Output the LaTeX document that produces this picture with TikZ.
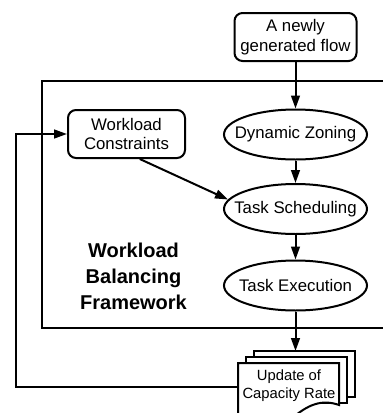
\documentclass[tikz,border=0pt]{standalone}
\usepackage{fontspec}
\setmainfont{Liberation Sans}
\usetikzlibrary{shapes.geometric,arrows.meta}

\begin{document}
\begin{tikzpicture}[x=0.5pt,y=-0.5pt,
  line width=1pt,
  arr/.style={-{Triangle[length=6.5pt,width=4.4pt]}},
  rbox/.style={draw,rounded corners=4pt,align=center,inner sep=0pt,
    font=\fontsize{8.4}{9.8}\selectfont},
  oval/.style={draw,ellipse,minimum width=71.5pt,minimum height=25pt,
    inner xsep=-12pt,inner ysep=0pt,font=\fontsize{8.4}{10}\selectfont},
  paper/.style={draw,fill=white}]
\useasboundingbox (0,0) rectangle (383,413);
\clip (0,0) rectangle (383,413);

% framework frame (open to the right)
\draw (400,81) -- (42,81) -- (42,328) -- (400,328);

% process nodes
\node[rbox,minimum width=61pt,minimum height=24pt] (flow) at (295.5,37) {A newly\\generated flow};
\node[rbox,minimum width=58.5pt,minimum height=24pt] (wc) at (126.5,134) {Workload\\Constraints};
\node[oval] (dz) at (295.5,134.5) {Dynamic Zoning};
\node[oval] (ts) at (295.5,209) {Task Scheduling};
\node[oval] (te) at (295.5,285.5) {Task Execution};
\node[font=\bfseries\fontsize{10}{13}\selectfont,align=center] (fw) at (133.5,276)
  {Workload\\Balancing\\Framework};

% stacked documents
\draw[paper] (254,351) rectangle (355,397);
\draw[paper] (246,357) rectangle (347,403);
\draw[paper] (238,363) -- (339,363) -- (339,405)
  .. controls (322,399) and (308,404) .. (290,420)
  .. controls (275,432) and (255,432) .. (238,428) -- cycle;
\node[font=\fontsize{7.4}{9}\selectfont,align=center] (upd) at (289,386) {Update of\\Capacity Rate};
\coordinate (docw) at (238,387);
\coordinate (docn) at (295.5,351);
\coordinate (loop) at (16,0);

% connectors
\draw[arr] (flow) -- (dz);
\draw[arr] (dz) -- (ts);
\draw[arr] (ts) -- (te);
\draw[arr] (te) -- (docn);
\draw[arr] (wc.-62) -- (ts.172);
\draw[arr] (docw) -| (loop |- wc.west) -- (wc.west);
\end{tikzpicture}
\end{document}
